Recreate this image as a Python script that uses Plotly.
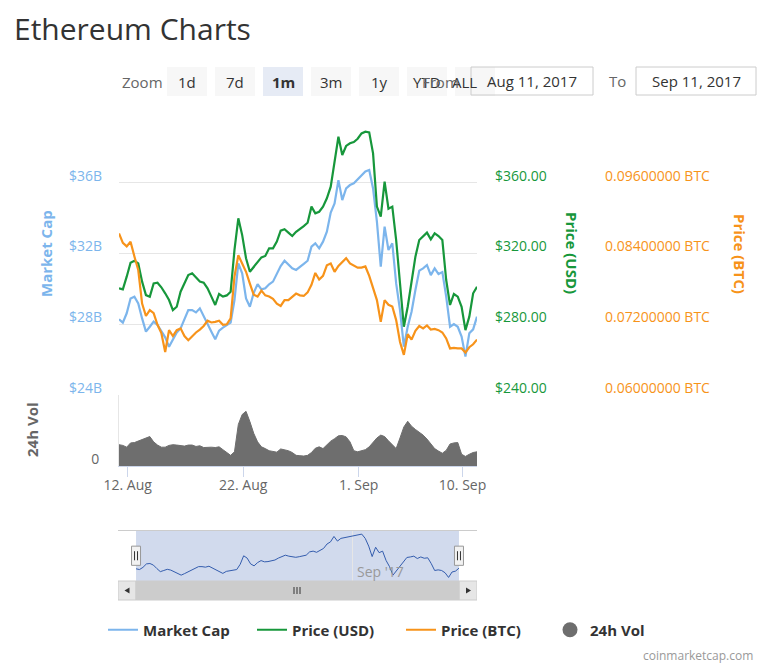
import pandas as pd
import plotly.graph_objects as go

W, H = 768, 666

# ─────────────────────────────────────────────
# data, 8-hourly from 11 Aug 06:00 to 11 Sep 06:00 (2017)
# ─────────────────────────────────────────────
TIMES = pd.date_range("2017-08-11 06:00", periods=94, freq="8h")

MARKET_CAP = [  # $ billions
    28.28, 28.09, 28.62, 29.46, 29.56, 29.18, 28.33, 27.58, 27.86, 28.15,
    27.96, 27.58, 27.26, 26.73, 27.11, 27.54, 27.77, 28.28, 28.80, 28.80,
    28.67, 28.90, 28.43, 28.05, 27.58, 27.15, 27.64, 27.81, 27.94, 28.09,
    29.37, 31.44, 30.88, 29.46, 28.99, 29.78, 30.27, 29.97, 30.03, 30.26,
    30.41, 30.88, 31.29, 31.59, 31.35, 31.16, 31.07, 31.22, 31.41, 31.59,
    32.39, 32.57, 32.29, 32.67, 33.23, 34.31, 34.83, 36.15, 35.02, 35.68,
    35.87, 35.97, 36.19, 36.44, 36.64, 36.72, 35.68, 33.80, 31.25, 33.52,
    32.20, 32.57, 30.31, 28.80, 26.73, 27.86, 28.71, 29.94, 31.03, 31.16,
    31.35, 30.78, 31.16, 30.84, 30.95, 29.56, 27.86, 28.01, 27.86, 27.30,
    26.17, 27.49, 27.71, 28.43,
]

PRICE_USD = [
    300.3, 299.7, 306.9, 314.8, 315.9, 314.4, 304.1, 296.5, 295.6, 303.1,
    303.5, 300.9, 297.5, 293.7, 288.0, 289.9, 298.4, 302.7, 307.8, 308.8,
    306.3, 304.1, 303.5, 300.3, 295.6, 290.9, 297.1, 295.6, 296.3, 298.4,
    322.0, 339.9, 330.4, 317.3, 309.7, 312.5, 315.4, 317.8, 318.6, 322.9,
    322.9, 326.7, 332.9, 333.7, 331.8, 329.9, 332.3, 333.7, 335.5, 337.4,
    346.5, 342.7, 343.6, 346.5, 351.2, 357.8, 371.0, 386.0, 375.7, 380.8,
    382.3, 383.0, 384.9, 387.9, 388.9, 388.5, 376.6, 346.5, 340.8, 360.6,
    345.3, 346.5, 327.6, 301.2, 278.6, 289.9, 303.1, 318.2, 327.6, 329.5,
    331.8, 328.0, 331.4, 329.9, 327.6, 305.0, 290.9, 297.1, 295.6, 289.9,
    276.7, 284.3, 297.5, 301.2,
]

PRICE_BTC = [
    0.0874, 0.0858, 0.0852, 0.0860, 0.0835, 0.0812, 0.0755, 0.0734, 0.0744, 0.0739,
    0.0719, 0.0705, 0.0673, 0.0710, 0.0700, 0.0710, 0.0713, 0.0700, 0.0693, 0.0700,
    0.0706, 0.0711, 0.0717, 0.0726, 0.0723, 0.0724, 0.0726, 0.0719, 0.0720, 0.0730,
    0.0801, 0.0837, 0.0823, 0.0809, 0.0789, 0.0770, 0.0767, 0.0777, 0.0769, 0.0767,
    0.0763, 0.0755, 0.0751, 0.0761, 0.0761, 0.0766, 0.0772, 0.0769, 0.0768, 0.0774,
    0.0787, 0.0807, 0.0796, 0.0802, 0.0820, 0.0823, 0.0809, 0.0819, 0.0826, 0.0832,
    0.0823, 0.0819, 0.0816, 0.0816, 0.0818, 0.0802, 0.0781, 0.0761, 0.0724, 0.0761,
    0.0753, 0.0750, 0.0727, 0.0690, 0.0668, 0.0703, 0.0694, 0.0709, 0.0717, 0.0713,
    0.0718, 0.0711, 0.0712, 0.0710, 0.0706, 0.0696, 0.0679, 0.0680, 0.0679, 0.0679,
    0.0672, 0.0681, 0.0686, 0.0694,
]

VOLUME_24H = [  # $ billions
    0.60, 0.58, 0.53, 0.65, 0.66, 0.70, 0.74, 0.79, 0.83, 0.68,
    0.59, 0.53, 0.53, 0.58, 0.60, 0.59, 0.57, 0.56, 0.59, 0.59,
    0.55, 0.57, 0.52, 0.53, 0.53, 0.52, 0.54, 0.46, 0.38, 0.30,
    0.40, 1.17, 1.45, 1.54, 1.25, 0.92, 0.68, 0.54, 0.49, 0.43,
    0.41, 0.39, 0.48, 0.46, 0.43, 0.38, 0.30, 0.29, 0.28, 0.30,
    0.38, 0.50, 0.54, 0.49, 0.59, 0.70, 0.77, 0.85, 0.86, 0.82,
    0.68, 0.43, 0.40, 0.43, 0.46, 0.54, 0.68, 0.79, 0.87, 0.83,
    0.71, 0.60, 0.49, 0.79, 1.10, 1.26, 1.12, 1.03, 0.95, 0.87,
    0.76, 0.64, 0.49, 0.42, 0.36, 0.44, 0.62, 0.65, 0.66, 0.33,
    0.27, 0.33, 0.38, 0.40,
]

MC_TICKS = [24, 28, 32, 36, 40]
USD_TICKS = [240, 280, 320, 360, 400]
BTC_TICKS = [0.060, 0.072, 0.084, 0.096, 0.108]
X_TICKS = ["2017-08-12", "2017-08-22", "2017-09-01", "2017-09-10"]
X_TICK_TEXT = ["12. Aug", "22. Aug", "1. Sep", "10. Sep"]

ZOOM_BUTTONS = ["1d", "7d", "1m", "3m", "1y", "YTD", "ALL"]
ACTIVE_BUTTON = "1m"
DATE_FROM = "Aug 11, 2017"
DATE_TO = "Sep 11, 2017"

X_RANGE = ["2017-08-11 06:00", "2017-09-11 06:00"]
NAV_RANGE = ["2017-08-09 12:30", "2017-09-12 23:30"]

FONT = "Open Sans, DejaVu Sans, sans-serif"
BLUE = "#7cb5ec"
GREEN = "#17973b"
ORANGE = "#f7931a"
VOL = "#6e6e6e"
NAV = "#335cad"
GRID = "#e6e6e6"


def px(x):
    return x / W


def py(y):
    return 1 - y / H


def note(text, x, y, size=15, color="#333333", xanchor="center", angle=0, bold=False):
    return dict(text=text, x=px(x), y=py(y), xref="paper", yref="paper",
                xanchor=xanchor, yanchor="middle", showarrow=False, textangle=angle,
                font=dict(family=FONT, size=size, color=color,
                          weight="bold" if bold else "normal"))


fig = go.Figure()

fig.add_trace(go.Scatter(x=TIMES, y=MARKET_CAP, name="Market Cap", mode="lines",
                         line=dict(color=BLUE, width=2.2), xaxis="x", yaxis="y"))
fig.add_trace(go.Scatter(x=TIMES, y=PRICE_USD, name="Price (USD)", mode="lines",
                         line=dict(color=GREEN, width=2.2), xaxis="x", yaxis="y2"))
fig.add_trace(go.Scatter(x=TIMES, y=PRICE_BTC, name="Price (BTC)", mode="lines",
                         line=dict(color=ORANGE, width=2.2), xaxis="x", yaxis="y3"))
fig.add_trace(go.Scatter(x=TIMES, y=VOLUME_24H, name="24h Vol", mode="lines",
                         line=dict(color=VOL, width=1), fill="tozeroy", fillcolor=VOL,
                         xaxis="x2", yaxis="y4", showlegend=False))
# legend entry only (round symbol like the original)
fig.add_trace(go.Scatter(x=[None], y=[None], name="24h Vol", mode="markers",
                         marker=dict(color=VOL, size=15), xaxis="x2", yaxis="y4"))
# navigator
fig.add_trace(go.Scatter(x=TIMES, y=MARKET_CAP, mode="lines", showlegend=False,
                         line=dict(color=NAV, width=1), xaxis="x3", yaxis="y5",
                         hoverinfo="skip"))

# ── shapes: zoom buttons, date boxes, navigator decorations, scrollbar ──
shapes = []
annotations = [
    note("Ethereum Charts", 12, 28, size=30, color="#333333", xanchor="left"),
    note("Zoom", 120, 82, color="#666666", xanchor="left"),
]
for i, lab in enumerate(ZOOM_BUTTONS):
    x0 = 167 + 48 * i
    shapes.append(dict(type="rect", xref="paper", yref="paper",
                       x0=px(x0), x1=px(x0 + 40), y0=py(96), y1=py(67),
                       fillcolor="#e6ebf5" if lab == ACTIVE_BUTTON else "#f7f7f7",
                       line=dict(width=0)))
    cx = x0 + 20 if lab != "ALL" else 464
    annotations.append(note(lab, cx, 82, bold=(lab == ACTIVE_BUTTON)))
annotations.append(note("From", 440, 82, color="#666666"))

for x0, x1, txt in [(471, 593, DATE_FROM), (636, 756, DATE_TO)]:
    shapes.append(dict(type="rect", xref="paper", yref="paper",
                       x0=px(x0), x1=px(x1), y0=py(95), y1=py(67),
                       fillcolor="rgba(255,255,255,0)", line=dict(color="#cccccc", width=1)))
    annotations.append(note(txt, (x0 + x1) / 2, 81))
annotations.append(note("To", 617, 81, color="#666666"))

# axis titles
annotations += [
    note("Market Cap", 46, 254, color=BLUE, angle=-90, bold=True),
    note("Price (USD)", 572, 253, color=GREEN, angle=90, bold=True),
    note("Price (BTC)", 740, 254, color=ORANGE, angle=90, bold=True),
    note("24h Vol", 32, 430, color="#666666", angle=-90, bold=True),
]

# navigator: selected range mask, outline, handles
shapes.append(dict(type="rect", xref="x3", yref="y5 domain", x0=X_RANGE[0], x1=X_RANGE[1],
                   y0=0, y1=1, fillcolor="rgba(102,133,194,0.3)", line=dict(width=0),
                   layer="below"))
shapes.append(dict(type="line", xref="paper", yref="paper", x0=px(118), x1=px(477),
                   y0=py(530.5), y1=py(530.5), line=dict(color="#cccccc", width=1)))
for xa in X_RANGE:
    shapes.append(dict(type="rect", xref="x3", yref="y5 domain", xsizemode="pixel",
                       xanchor=xa, x0=-4.5, x1=4.5, y0=0.31, y1=0.69,
                       fillcolor="#f2f2f2", line=dict(color="#999999", width=1)))
    for dx in (-1.5, 1.5):
        shapes.append(dict(type="line", xref="x3", yref="y5 domain", xsizemode="pixel",
                           xanchor=xa, x0=dx, x1=dx, y0=0.41, y1=0.59,
                           line=dict(color="#333333", width=1)))
annotations.append(dict(text="Sep '17", x="2017-09-01", xref="x3", y=0.18, yref="y5 domain",
                        xanchor="left", yanchor="middle", xshift=3, showarrow=False,
                        font=dict(family=FONT, size=14, color="#999999")))

# scrollbar
shapes += [
    dict(type="rect", xref="x3", yref="paper", x0=NAV_RANGE[0], x1=NAV_RANGE[1],
         y0=py(600), y1=py(581), fillcolor="#f2f2f2", line=dict(width=0)),
    dict(type="rect", xref="x3", yref="paper", x0=NAV_RANGE[0], x1=X_RANGE[0],
         y0=py(600), y1=py(581), fillcolor="#e6e6e6", line=dict(color="#cccccc", width=1)),
    dict(type="rect", xref="x3", yref="paper", x0=X_RANGE[1], x1=NAV_RANGE[1],
         y0=py(600), y1=py(581), fillcolor="#e6e6e6", line=dict(color="#cccccc", width=1)),
    dict(type="rect", xref="x3", yref="paper", x0=X_RANGE[0], x1=X_RANGE[1],
         y0=py(600), y1=py(581), fillcolor="#cccccc", line=dict(color="#cccccc", width=1)),
    dict(type="path", xref="paper", yref="paper", fillcolor="#333333", line=dict(width=0),
         path=f"M {px(129.5)},{py(587.5)} L {px(124.5)},{py(590.5)} L {px(129.5)},{py(593.5)} Z"),
    dict(type="path", xref="paper", yref="paper", fillcolor="#333333", line=dict(width=0),
         path=f"M {px(466)},{py(587.5)} L {px(471)},{py(590.5)} L {px(466)},{py(593.5)} Z"),
]
for gx in (294, 297, 300):
    shapes.append(dict(type="line", xref="paper", yref="paper", x0=px(gx), x1=px(gx),
                       y0=py(594), y1=py(587), line=dict(color="#333333", width=1)))

annotations.append(note("coinmarketcap.com", 755, 655, size=12, color="#999999", xanchor="right"))

tick_font = dict(family=FONT, size=14)

fig.update_layout(
    width=W, height=H, margin=dict(l=0, r=0, t=0, b=0, autoexpand=False),
    paper_bgcolor="white", plot_bgcolor="white",
    font=dict(family=FONT, color="#333333"),
    hovermode=False,
    legend=dict(orientation="h", x=px(103), xanchor="left", y=py(630), yanchor="middle",
                font=dict(family=FONT, size=15, color="#333333", weight="bold"),
                entrywidth=104, itemwidth=30, bgcolor="rgba(0,0,0,0)"),
    xaxis=dict(domain=[px(119), px(477)], anchor="y", range=X_RANGE,
               showticklabels=False, showgrid=False, zeroline=False, showline=False),
    yaxis=dict(domain=[py(395), py(112)], anchor="x", range=[24, 40],
               tickvals=MC_TICKS, ticktext=[f"${v}B" for v in MC_TICKS[:-1]] + [""],
               tickfont=dict(tick_font, color=BLUE), gridcolor=GRID, gridwidth=1,
               zeroline=False, showline=False, ticklabelstandoff=16, ticklabelshift=-7),
    yaxis2=dict(overlaying="y", anchor="x", side="right", range=[240, 400],
                tickvals=USD_TICKS, ticktext=[f"${v:.2f}" for v in USD_TICKS[:-1]] + [""],
                tickfont=dict(tick_font, color=GREEN), showgrid=False, zeroline=False,
                ticklabelstandoff=17, ticklabelshift=-7),
    yaxis3=dict(overlaying="y", anchor="free", position=px(592), side="right",
                range=[0.06, 0.108], tickvals=BTC_TICKS,
                ticktext=[f"{v:.8f} BTC" for v in BTC_TICKS[:-1]] + [""],
                tickfont=dict(tick_font, color=ORANGE), showgrid=False, zeroline=False,
                ticklabelstandoff=12, ticklabelshift=-7),
    xaxis2=dict(domain=[px(119), px(477)], anchor="y4", range=X_RANGE,
                tickvals=X_TICKS, ticktext=X_TICK_TEXT, ticks="outside", ticklen=10,
                tickcolor="#ccd6eb", showline=True, linecolor="#ccd6eb",
                tickfont=dict(tick_font, color="#666666"), showgrid=False, zeroline=False,
                ticklabelstandoff=-4),
    yaxis4=dict(domain=[py(466), py(395)], anchor="x2", range=[0, 2.0],
                tickvals=[0], ticktext=["0"], tickfont=dict(tick_font, color="#666666"),
                showgrid=False, zeroline=False, showline=True, linecolor=GRID,
                ticklabelstandoff=16, ticklabelshift=-7),
    xaxis3=dict(domain=[px(118), px(477)], anchor="y5", range=NAV_RANGE,
                tickvals=["2017-09-01"], showticklabels=False, showgrid=True,
                gridcolor=GRID, zeroline=False, showline=False),
    yaxis5=dict(domain=[py(581), py(530.5)], anchor="x3", range=[25.3, 37.6],
                visible=False),
    shapes=shapes,
    annotations=annotations,
)

fig.write_html("out.html", config={"displayModeBar": False},
               post_script="document.body.style.margin='0px';")
